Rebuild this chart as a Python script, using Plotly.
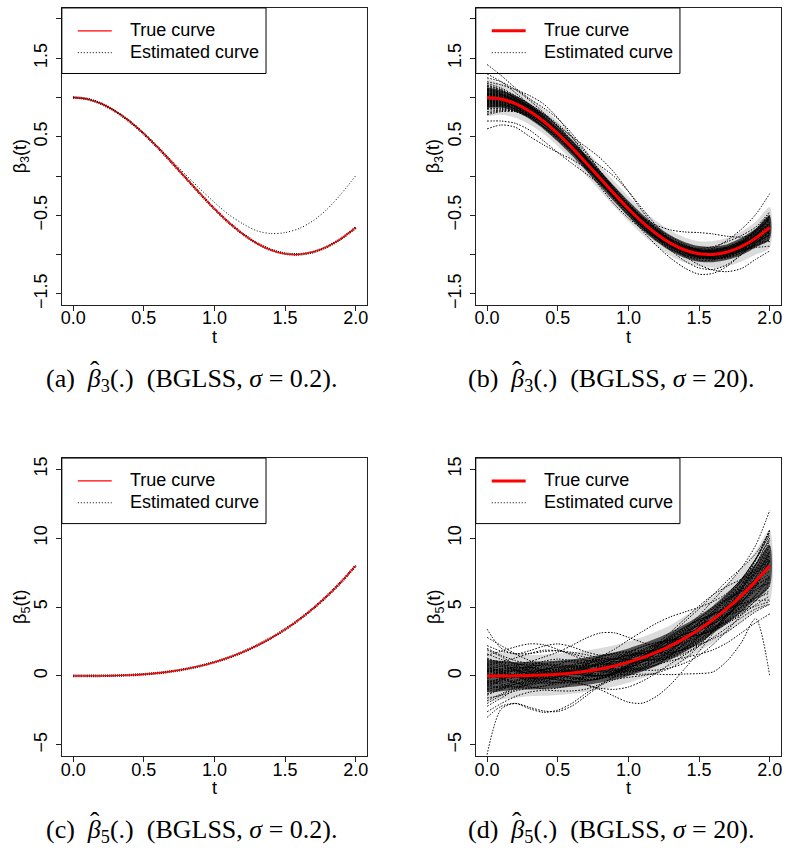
import plotly.graph_objects as go

# ---------------- data ----------------
t_grid = [0.0, 0.1, 0.2, 0.3, 0.4, 0.5, 0.6, 0.7, 0.8, 0.9, 1.0,
          1.1, 1.2, 1.3, 1.4, 1.5, 1.6, 1.7, 1.8, 1.9, 2.0]

beta3_true = [1.000, 0.980, 0.921, 0.825, 0.697, 0.540, 0.362, 0.170, -0.029, -0.227, -0.416,
              -0.589, -0.737, -0.857, -0.942, -0.990, -0.998, -0.967, -0.897, -0.791, -0.654]
beta5_true = [0.000, 0.001, 0.008, 0.027, 0.064, 0.125, 0.216, 0.343, 0.512, 0.729, 1.000,
              1.331, 1.728, 2.197, 2.744, 3.375, 4.096, 4.913, 5.832, 6.859, 8.000]

# panel (a): sigma = 0.2 estimates
beta3_est_a_close = [1.002, 0.981, 0.920, 0.823, 0.695, 0.538, 0.360, 0.168, -0.031, -0.229, -0.418,
                     -0.590, -0.737, -0.856, -0.940, -0.988, -0.997, -0.967, -0.898, -0.793, -0.657]
beta3_est_a_off = [1.000, 0.980, 0.921, 0.825, 0.697, 0.542, 0.372, 0.195, 0.011, -0.167, -0.336,
                   -0.489, -0.607, -0.697, -0.732, -0.720, -0.668, -0.567, -0.417, -0.221, 0.006]
# panel (c): sigma = 0.2 estimate
beta5_est_c = [0.010, 0.006, 0.011, 0.028, 0.062, 0.121, 0.211, 0.339, 0.509, 0.728, 1.001,
               1.334, 1.733, 2.203, 2.749, 3.378, 4.095, 4.908, 5.826, 6.856, 8.004]

# panel (b): departures of each sigma = 20 estimate from the true beta3 curve
beta3_dev_b = [
    [0.12, 0.10, 0.07, 0.04, 0.02, 0.01, 0.02, 0.04, 0.05, 0.05, 0.03, 0.01, -0.01, -0.02, -0.02, -0.01, 0.01, 0.03, 0.05, 0.08, 0.12],
    [-0.10, -0.08, -0.05, -0.03, -0.02, -0.02, -0.03, -0.04, -0.04, -0.02, 0.00, 0.02, 0.04, 0.05, 0.05, 0.04, 0.02, 0.00, -0.03, -0.06, -0.10],
    [0.05, 0.06, 0.07, 0.07, 0.06, 0.04, 0.01, -0.02, -0.04, -0.05, -0.04, -0.02, 0.01, 0.03, 0.04, 0.04, 0.03, 0.01, -0.01, -0.02, -0.03],
    [-0.20, -0.15, -0.10, -0.06, -0.04, -0.03, -0.01, 0.01, 0.03, 0.04, 0.04, 0.03, 0.01, -0.01, -0.03, -0.04, -0.05, -0.05, -0.04, -0.02, 0.02],
    [0.18, 0.14, 0.10, 0.08, 0.07, 0.06, 0.04, 0.02, 0.00, -0.02, -0.04, -0.05, -0.05, -0.04, -0.02, 0.00, 0.02, 0.04, 0.06, 0.10, 0.16],
    [0.02, 0.00, -0.03, -0.06, -0.08, -0.08, -0.06, -0.03, 0.00, 0.03, 0.05, 0.06, 0.05, 0.03, 0.00, -0.03, -0.05, -0.06, -0.05, -0.03, 0.01],
    [-0.05, -0.03, 0.00, 0.03, 0.05, 0.06, 0.05, 0.03, 0.00, -0.03, -0.05, -0.06, -0.05, -0.03, 0.00, 0.03, 0.05, 0.06, 0.05, 0.03, 0.00],
    [0.08, 0.06, 0.04, 0.02, 0.00, -0.02, -0.04, -0.05, -0.05, -0.04, -0.02, 0.00, 0.02, 0.04, 0.05, 0.05, 0.04, 0.02, -0.01, -0.05, -0.10],
    [-0.15, -0.13, -0.10, -0.08, -0.07, -0.06, -0.06, -0.06, -0.05, -0.03, -0.01, 0.01, 0.02, 0.02, 0.01, -0.01, -0.03, -0.05, -0.06, -0.06, -0.05],
    [0.25, 0.22, 0.18, 0.14, 0.11, 0.09, 0.07, 0.06, 0.05, 0.04, 0.03, 0.02, 0.01, 0.00, -0.01, -0.02, -0.02, -0.01, 0.01, 0.05, 0.12],
    [-0.08, -0.04, 0.01, 0.06, 0.09, 0.10, 0.09, 0.06, 0.02, -0.02, -0.05, -0.07, -0.07, -0.05, -0.02, 0.01, 0.04, 0.06, 0.06, 0.04, 0.00],
    [0.00, 0.02, 0.04, 0.05, 0.05, 0.03, 0.01, -0.02, -0.05, -0.07, -0.08, -0.07, -0.05, -0.02, 0.01, 0.04, 0.06, 0.07, 0.07, 0.09, 0.14],
    [0.10, 0.07, 0.03, -0.01, -0.04, -0.05, -0.04, -0.02, 0.01, 0.04, 0.06, 0.07, 0.06, 0.04, 0.01, -0.02, -0.05, -0.07, -0.08, -0.09, -0.12],
    [-0.03, -0.05, -0.07, -0.08, -0.07, -0.04, 0.00, 0.04, 0.07, 0.08, 0.07, 0.04, 0.00, -0.04, -0.07, -0.08, -0.07, -0.04, 0.00, 0.05, 0.10],
    [0.04, 0.05, 0.05, 0.04, 0.03, 0.02, 0.02, 0.03, 0.04, 0.05, 0.05, 0.04, 0.02, 0.00, -0.02, -0.03, -0.03, -0.02, 0.00, 0.03, 0.07],
    [-0.12, -0.09, -0.06, -0.03, 0.00, 0.02, 0.03, 0.03, 0.02, 0.00, -0.02, -0.04, -0.05, -0.05, -0.04, -0.02, 0.00, 0.02, 0.03, 0.02, -0.02],
    [0.06, 0.03, 0.00, -0.02, -0.02, 0.00, 0.03, 0.06, 0.08, 0.08, 0.06, 0.03, 0.00, -0.03, -0.05, -0.05, -0.03, 0.00, 0.04, 0.09, 0.15],
    [-0.02, 0.01, 0.04, 0.06, 0.06, 0.04, 0.01, -0.02, -0.04, -0.05, -0.04, -0.02, 0.00, 0.02, 0.03, 0.02, 0.00, -0.03, -0.06, -0.10, -0.15],
    [0.14, 0.11, 0.08, 0.05, 0.03, 0.01, -0.01, -0.03, -0.04, -0.04, -0.03, -0.01, 0.01, 0.03, 0.04, 0.05, 0.05, 0.04, 0.02, -0.01, -0.05],
    [-0.06, -0.07, -0.07, -0.06, -0.04, -0.01, 0.02, 0.04, 0.05, 0.04, 0.02, -0.01, -0.04, -0.06, -0.07, -0.06, -0.04, -0.01, 0.03, 0.07, 0.12],
    [0.03, 0.04, 0.04, 0.03, 0.01, -0.01, -0.03, -0.04, -0.03, -0.01, 0.02, 0.04, 0.05, 0.04, 0.02, 0.00, -0.02, -0.03, -0.03, -0.01, 0.03],
    [-0.18, -0.14, -0.09, -0.05, -0.02, 0.00, 0.01, 0.00, -0.02, -0.04, -0.05, -0.04, -0.02, 0.01, 0.04, 0.06, 0.07, 0.06, 0.03, -0.02, -0.08],
    [0.09, 0.09, 0.08, 0.06, 0.03, 0.00, -0.03, -0.05, -0.06, -0.05, -0.03, 0.00, 0.03, 0.05, 0.06, 0.05, 0.03, 0.00, -0.04, -0.09, -0.16],
    [-0.04, -0.02, 0.00, 0.01, 0.01, 0.00, -0.01, -0.01, 0.00, 0.02, 0.04, 0.05, 0.05, 0.03, 0.00, -0.03, -0.05, -0.06, -0.05, -0.02, 0.04],
    [0.01, -0.02, -0.04, -0.05, -0.04, -0.02, 0.01, 0.04, 0.06, 0.06, 0.04, 0.01, -0.02, -0.04, -0.04, -0.02, 0.01, 0.05, 0.08, 0.10, 0.10],
    [0.42, 0.30, 0.20, 0.16, 0.17, 0.19, 0.18, 0.14, 0.09, 0.05, 0.02, 0.00, -0.01, 0.00, 0.02, 0.04, 0.05, 0.05, 0.04, 0.04, 0.06],
    [-0.30, -0.28, -0.25, -0.24, -0.25, -0.24, -0.20, -0.14, -0.08, -0.03, 0.00, 0.02, 0.02, 0.00, -0.03, -0.05, -0.06, -0.05, -0.03, 0.00, 0.04],
    [-0.40, -0.33, -0.30, -0.32, -0.30, -0.24, -0.15, -0.07, -0.01, 0.02, 0.03, 0.02, 0.00, -0.02, -0.03, -0.03, -0.02, 0.00, 0.02, 0.03, 0.02],
    [0.20, 0.18, 0.18, 0.20, 0.22, 0.20, 0.14, 0.07, 0.01, -0.02, -0.03, -0.02, 0.00, 0.02, 0.03, 0.02, 0.00, -0.02, -0.03, -0.02, 0.02],
    [0.00, 0.00, 0.02, 0.05, 0.08, 0.10, 0.14, 0.20, 0.26, 0.27, 0.22, 0.14, 0.06, 0.00, -0.03, -0.04, -0.03, -0.01, 0.02, 0.05, 0.08],
    [0.05, 0.03, 0.01, 0.00, 0.00, 0.01, 0.04, 0.09, 0.16, 0.22, 0.22, 0.17, 0.10, 0.04, 0.00, -0.02, -0.02, 0.00, 0.02, 0.04, 0.05],
    [-0.05, -0.04, -0.03, -0.02, -0.02, -0.02, -0.03, -0.04, -0.05, -0.06, -0.08, -0.11, -0.15, -0.19, -0.23, -0.26, -0.24, -0.18, -0.10, -0.04, 0.00],
    [0.02, 0.00, -0.02, -0.03, -0.03, -0.01, 0.01, 0.03, 0.03, 0.02, 0.03, 0.06, 0.11, 0.17, 0.23, 0.27, 0.26, 0.20, 0.12, 0.06, 0.05],
    [-0.08, -0.06, -0.04, -0.02, 0.00, 0.00, -0.01, -0.03, -0.04, -0.03, -0.01, 0.00, 0.00, -0.03, -0.08, -0.14, -0.20, -0.25, -0.28, -0.27, -0.30],
    [0.10, 0.06, 0.02, -0.01, -0.03, -0.03, -0.01, 0.02, 0.04, 0.04, 0.02, -0.01, -0.03, -0.03, -0.01, 0.03, 0.08, 0.15, 0.22, 0.30, 0.43],
    [-0.12, -0.10, -0.08, -0.07, -0.07, -0.06, -0.04, -0.01, 0.02, 0.03, 0.02, -0.01, -0.05, -0.09, -0.14, -0.18, -0.19, -0.16, -0.10, -0.06, -0.05],
    [0.15, 0.12, 0.10, 0.09, 0.10, 0.12, 0.13, 0.12, 0.09, 0.06, 0.03, 0.01, 0.01, 0.02, 0.04, 0.07, 0.10, 0.13, 0.14, 0.14, 0.20],
    [-0.22, -0.16, -0.10, -0.05, -0.02, -0.02, -0.04, -0.08, -0.11, -0.13, -0.12, -0.09, -0.05, -0.01, 0.02, 0.03, 0.02, -0.01, -0.05, -0.12, -0.24],
    [0.30, 0.22, 0.14, 0.08, 0.03, 0.00, -0.02, -0.03, -0.03, -0.01, 0.02, 0.05, 0.07, 0.08, 0.07, 0.05, 0.02, -0.01, -0.02, 0.02, 0.15],
    [-0.14, -0.12, -0.08, -0.03, 0.02, 0.06, 0.08, 0.08, 0.05, 0.01, -0.03, -0.06, -0.08, -0.08, -0.06, -0.03, 0.00, 0.01, 0.00, -0.05, -0.18],
    [0.07, 0.05, 0.03, 0.02, 0.02, 0.03, 0.04, 0.04, 0.03, 0.01, -0.01, -0.03, -0.03, -0.02, 0.00, 0.02, 0.03, 0.03, 0.01, -0.02, -0.07],
    [-0.09, -0.08, -0.06, -0.04, -0.01, 0.01, 0.02, 0.01, -0.01, -0.03, -0.04, -0.03, -0.01, 0.02, 0.04, 0.05, 0.04, 0.02, 0.01, 0.02, 0.06],
    [0.00, -0.01, -0.01, 0.00, 0.02, 0.04, 0.05, 0.04, 0.01, -0.02, -0.05, -0.06, -0.05, -0.03, 0.00, 0.02, 0.03, 0.02, 0.00, -0.04, -0.10],
    [0.11, 0.08, 0.05, 0.02, -0.01, -0.03, -0.05, -0.06, -0.06, -0.04, -0.01, 0.02, 0.04, 0.05, 0.04, 0.01, -0.02, -0.04, -0.04, -0.02, 0.03],
    [-0.01, 0.02, 0.04, 0.04, 0.02, -0.01, -0.04, -0.06, -0.06, -0.04, -0.01, 0.02, 0.03, 0.03, 0.01, -0.01, -0.01, 0.01, 0.05, 0.11, 0.18],
    [0.04, 0.02, 0.00, -0.01, 0.00, 0.02, 0.05, 0.07, 0.07, 0.05, 0.02, -0.01, -0.03, -0.03, -0.02, 0.01, 0.04, 0.05, 0.04, 0.01, -0.04],
    [-0.06, -0.05, -0.03, -0.01, 0.00, 0.00, -0.01, -0.02, -0.02, 0.00, 0.02, 0.04, 0.06, 0.06, 0.05, 0.03, 0.00, -0.03, -0.06, -0.08, -0.08],
    [0.16, 0.12, 0.07, 0.03, 0.00, -0.01, 0.00, 0.02, 0.03, 0.03, 0.01, -0.02, -0.05, -0.07, -0.07, -0.05, -0.02, 0.02, 0.06, 0.09, 0.09],
    [-0.11, -0.07, -0.03, 0.01, 0.03, 0.04, 0.03, 0.01, -0.01, -0.02, -0.01, 0.01, 0.03, 0.03, 0.01, -0.02, -0.05, -0.07, -0.08, -0.07, -0.04],
    [0.03, 0.05, 0.06, 0.06, 0.04, 0.02, 0.00, -0.01, -0.01, 0.01, 0.03, 0.04, 0.03, 0.01, -0.02, -0.04, -0.04, -0.02, 0.02, 0.07, 0.13],
]
# half-widths of the dense core and of the wider spread of the panel (b) bundle
beta3_dense_b = [0.13, 0.11, 0.10, 0.10, 0.10, 0.10, 0.10, 0.10, 0.10, 0.10, 0.10,
                 0.10, 0.10, 0.10, 0.10, 0.10, 0.10, 0.10, 0.11, 0.12, 0.15]
beta3_spread_b = [0.24, 0.20, 0.18, 0.17, 0.16, 0.16, 0.16, 0.16, 0.16, 0.16, 0.16,
                  0.16, 0.16, 0.16, 0.16, 0.16, 0.17, 0.18, 0.19, 0.21, 0.26]

# panel (d): departures of each sigma = 20 estimate from the true beta5 curve
beta5_dev_d = [
    [1.2, 1.0, 0.7, 0.4, 0.2, 0.1, 0.1, 0.2, 0.4, 0.5, 0.5, 0.3, 0.0, -0.3, -0.5, -0.5, -0.3, 0.0, 0.4, 0.9, 1.5],
    [-1.0, -0.7, -0.4, -0.2, -0.1, -0.2, -0.4, -0.6, -0.7, -0.6, -0.3, 0.0, 0.3, 0.5, 0.5, 0.3, -0.1, -0.5, -0.9, -1.2, -1.5],
    [0.5, 0.7, 0.8, 0.8, 0.6, 0.3, 0.0, -0.3, -0.5, -0.5, -0.3, 0.0, 0.4, 0.7, 0.8, 0.7, 0.4, 0.0, -0.4, -0.7, -0.9],
    [-2.0, -1.4, -0.9, -0.5, -0.3, -0.2, 0.0, 0.2, 0.4, 0.5, 0.4, 0.2, -0.1, -0.4, -0.6, -0.7, -0.7, -0.5, -0.2, 0.3, 1.0],
    [2.0, 1.5, 1.1, 0.9, 0.8, 0.7, 0.5, 0.2, -0.1, -0.4, -0.6, -0.7, -0.6, -0.4, -0.1, 0.2, 0.5, 0.8, 1.1, 1.6, 2.5],
    [0.2, -0.1, -0.5, -0.8, -1.0, -1.0, -0.8, -0.4, 0.0, 0.4, 0.7, 0.8, 0.7, 0.4, 0.0, -0.4, -0.8, -1.0, -1.1, -1.0, -0.7],
    [-0.5, -0.3, 0.1, 0.5, 0.8, 0.9, 0.8, 0.5, 0.1, -0.3, -0.7, -0.9, -0.9, -0.7, -0.3, 0.2, 0.6, 0.9, 1.0, 0.8, 0.4],
    [0.9, 0.7, 0.4, 0.1, -0.2, -0.4, -0.6, -0.7, -0.7, -0.5, -0.2, 0.1, 0.4, 0.6, 0.7, 0.6, 0.3, -0.1, -0.6, -1.2, -2.0],
    [-1.6, -1.4, -1.1, -0.9, -0.8, -0.7, -0.7, -0.7, -0.6, -0.4, -0.2, 0.0, 0.1, 0.1, 0.0, -0.3, -0.6, -0.9, -1.2, -1.4, -1.5],
    [2.8, 2.2, 1.6, 1.1, 0.8, 0.6, 0.5, 0.4, 0.3, 0.2, 0.1, 0.0, -0.1, -0.2, -0.2, -0.1, 0.1, 0.4, 0.8, 1.5, 2.6],
    [-0.8, -0.3, 0.2, 0.7, 1.0, 1.1, 0.9, 0.6, 0.2, -0.2, -0.6, -0.8, -0.9, -0.7, -0.4, 0.0, 0.4, 0.7, 0.8, 0.6, 0.2],
    [0.0, 0.3, 0.5, 0.6, 0.5, 0.3, 0.0, -0.3, -0.6, -0.8, -0.9, -0.8, -0.6, -0.3, 0.1, 0.5, 0.8, 1.0, 1.2, 1.6, 2.2],
    [1.1, 0.8, 0.4, -0.1, -0.4, -0.6, -0.5, -0.3, 0.1, 0.4, 0.7, 0.8, 0.7, 0.4, 0.0, -0.4, -0.8, -1.1, -1.4, -1.7, -2.2],
    [-0.3, -0.6, -0.8, -0.9, -0.8, -0.5, 0.0, 0.4, 0.8, 0.9, 0.8, 0.5, 0.0, -0.5, -0.8, -1.0, -0.9, -0.6, -0.1, 0.6, 1.4],
    [0.4, 0.5, 0.6, 0.5, 0.3, 0.2, 0.2, 0.3, 0.4, 0.5, 0.5, 0.4, 0.2, -0.1, -0.3, -0.5, -0.6, -0.5, -0.3, 0.1, 0.7],
    [-1.3, -1.0, -0.6, -0.3, 0.0, 0.2, 0.3, 0.3, 0.2, 0.0, -0.3, -0.5, -0.7, -0.8, -0.8, -0.6, -0.4, -0.2, -0.1, -0.3, -0.8],
    [0.7, 0.3, 0.0, -0.2, -0.2, 0.0, 0.3, 0.6, 0.9, 0.9, 0.7, 0.3, -0.1, -0.5, -0.8, -0.9, -0.8, -0.4, 0.1, 0.8, 1.8],
    [-0.2, 0.1, 0.4, 0.7, 0.7, 0.5, 0.1, -0.2, -0.5, -0.6, -0.5, -0.3, 0.0, 0.3, 0.4, 0.3, 0.0, -0.5, -1.1, -1.8, -2.6],
    [1.6, 1.2, 0.9, 0.6, 0.3, 0.1, -0.1, -0.3, -0.5, -0.5, -0.4, -0.1, 0.2, 0.5, 0.7, 0.8, 0.8, 0.6, 0.3, -0.1, -0.6],
    [-0.7, -0.8, -0.8, -0.7, -0.5, -0.1, 0.2, 0.5, 0.6, 0.5, 0.2, -0.2, -0.6, -0.9, -1.1, -1.1, -0.8, -0.3, 0.4, 1.2, 2.0],
    [0.3, 0.4, 0.4, 0.3, 0.1, -0.1, -0.3, -0.5, -0.4, -0.1, 0.2, 0.5, 0.6, 0.5, 0.3, 0.0, -0.3, -0.5, -0.5, -0.2, 0.4],
    [-2.2, -1.6, -1.0, -0.6, -0.3, 0.0, 0.1, 0.0, -0.2, -0.5, -0.7, -0.6, -0.3, 0.1, 0.5, 0.8, 0.9, 0.7, 0.3, -0.4, -1.3],
    [1.0, 1.0, 0.9, 0.7, 0.3, 0.0, -0.3, -0.6, -0.7, -0.6, -0.3, 0.0, 0.4, 0.7, 0.8, 0.7, 0.4, 0.0, -0.6, -1.4, -2.5],
    [-0.5, -0.2, 0.0, 0.1, 0.1, 0.0, -0.1, -0.1, 0.0, 0.2, 0.4, 0.6, 0.6, 0.4, 0.0, -0.4, -0.7, -0.9, -0.8, -0.4, 0.5],
    [0.1, -0.2, -0.5, -0.6, -0.5, -0.2, 0.1, 0.5, 0.7, 0.7, 0.5, 0.1, -0.3, -0.6, -0.7, -0.5, -0.1, 0.5, 1.1, 1.6, 1.8],
    [3.4, 2.0, 1.6, 1.8, 2.1, 2.2, 1.9, 1.4, 1.0, 0.8, 0.6, 0.4, 0.2, 0.1, 0.2, 0.4, 0.6, 0.7, 0.6, 0.5, 0.8],
    [-5.7, -2.4, -2.0, -2.3, -2.6, -2.7, -2.4, -1.8, -1.2, -0.8, -0.6, -0.5, -0.5, -0.6, -0.7, -0.8, -0.8, -0.6, -0.3, 0.0, 0.3],
    [-3.0, -2.2, -2.0, -2.4, -2.7, -2.6, -2.2, -1.6, -1.2, -1.0, -1.1, -1.3, -1.5, -1.6, -1.5, -1.2, -0.8, -0.4, -0.1, 0.3, 1.0],
    [1.5, 1.8, 2.1, 2.3, 2.2, 1.8, 1.3, 0.8, 0.4, 0.1, -0.1, -0.2, -0.1, 0.1, 0.3, 0.5, 0.6, 0.6, 0.5, 0.6, 1.0],
    [0.0, 0.3, 0.7, 1.0, 1.3, 1.6, 2.0, 2.4, 2.6, 2.4, 1.8, 1.1, 0.4, -0.1, -0.4, -0.4, -0.2, 0.2, 0.8, 1.6, 2.6],
    [0.8, 0.5, 0.0, -0.4, -0.6, -0.6, -0.5, -0.4, -0.4, -0.6, -0.9, -1.2, -1.6, -2.1, -2.6, -3.2, -3.8, -3.8, -3.4, -2.7, -8.0],
    [0.5, 0.3, 0.0, -0.3, -0.5, -0.6, -0.7, -1.0, -1.5, -2.2, -2.9, -3.3, -3.2, -2.8, -2.2, -1.6, -1.0, -0.6, -0.4, -0.6, -1.2],
    [-0.6, -0.4, -0.1, 0.2, 0.4, 0.5, 0.6, 0.7, 0.9, 1.2, 1.6, 1.9, 2.1, 2.1, 1.9, 1.6, 1.3, 1.1, 1.2, 1.6, 2.3],
    [0.3, 0.2, 0.0, -0.2, -0.3, -0.2, 0.0, 0.3, 0.5, 0.6, 0.5, 0.3, 0.2, 0.3, 0.6, 1.0, 1.4, 1.7, 2.0, 2.6, 4.0],
    [-0.4, -0.2, 0.1, 0.3, 0.4, 0.3, 0.1, -0.2, -0.5, -0.7, -0.8, -0.8, -0.9, -1.1, -1.4, -1.8, -2.2, -2.5, -2.7, -3.0, -3.5],
    [-2.6, -2.0, -1.5, -1.2, -1.1, -1.2, -1.3, -1.3, -1.1, -0.8, -0.5, -0.3, -0.3, -0.5, -0.8, -1.1, -1.4, -1.7, -1.9, -2.2, -2.8],
    [2.2, 1.8, 1.6, 1.6, 1.7, 1.7, 1.5, 1.2, 0.8, 0.5, 0.3, 0.3, 0.5, 0.8, 1.2, 1.5, 1.8, 2.0, 2.0, 2.0, 2.4],
    [-1.8, -1.3, -0.8, -0.4, -0.2, -0.3, -0.6, -1.0, -1.4, -1.7, -1.8, -1.7, -1.5, -1.3, -1.2, -1.2, -1.3, -1.4, -1.6, -2.0, -2.8],
    [0.8, 1.0, 1.3, 1.6, 1.8, 1.7, 1.4, 1.0, 0.6, 0.3, 0.2, 0.3, 0.6, 1.0, 1.4, 1.7, 1.8, 1.6, 1.2, 0.9, 1.1],
    [-1.1, -0.9, -0.6, -0.2, 0.3, 0.7, 0.9, 0.8, 0.5, 0.1, -0.4, -0.9, -1.3, -1.6, -1.8, -1.9, -1.8, -1.6, -1.4, -1.4, -1.8],
    [0.6, 0.4, 0.3, 0.2, 0.2, 0.3, 0.4, 0.4, 0.3, 0.1, -0.1, -0.3, -0.4, -0.3, -0.1, 0.2, 0.4, 0.5, 0.4, 0.1, -0.4],
    [-0.9, -0.8, -0.6, -0.4, -0.1, 0.1, 0.2, 0.1, -0.1, -0.3, -0.4, -0.3, -0.1, 0.2, 0.4, 0.5, 0.4, 0.2, 0.0, -0.1, 0.1],
    [0.0, -0.1, -0.1, 0.0, 0.2, 0.4, 0.5, 0.4, 0.1, -0.2, -0.5, -0.7, -0.7, -0.6, -0.4, -0.2, 0.0, 0.1, 0.0, -0.3, -0.9],
    [1.3, 0.9, 0.5, 0.1, -0.2, -0.4, -0.6, -0.7, -0.7, -0.5, -0.2, 0.1, 0.3, 0.4, 0.3, 0.0, -0.3, -0.5, -0.5, -0.3, 0.3],
    [-0.1, 0.2, 0.4, 0.4, 0.2, -0.1, -0.4, -0.6, -0.7, -0.6, -0.4, -0.1, 0.1, 0.2, 0.1, -0.1, -0.2, 0.0, 0.5, 1.2, 2.0],
    [0.4, 0.2, 0.0, -0.1, 0.0, 0.2, 0.5, 0.7, 0.7, 0.5, 0.2, -0.2, -0.5, -0.7, -0.7, -0.5, -0.1, 0.3, 0.6, 0.7, 0.5],
    [-0.6, -0.5, -0.3, -0.1, 0.0, 0.0, -0.1, -0.2, -0.3, -0.3, -0.2, 0.1, 0.4, 0.6, 0.6, 0.4, 0.0, -0.4, -0.8, -1.0, -1.0],
    [1.9, 1.4, 0.8, 0.3, 0.0, -0.1, 0.0, 0.2, 0.3, 0.3, 0.1, -0.2, -0.5, -0.8, -0.9, -0.8, -0.5, 0.0, 0.6, 1.2, 1.6],
    [-1.4, -0.9, -0.4, 0.1, 0.4, 0.5, 0.4, 0.1, -0.2, -0.4, -0.4, -0.2, 0.1, 0.3, 0.3, 0.0, -0.5, -1.0, -1.3, -1.4, -1.2],
    [0.3, 0.5, 0.6, 0.6, 0.4, 0.2, 0.0, -0.1, -0.1, 0.1, 0.3, 0.5, 0.5, 0.3, 0.0, -0.4, -0.7, -0.8, -0.6, -0.1, 0.8],
]
# half-widths of the dense core and of the wider spread of the panel (d) bundle
beta5_dense_d = [1.2, 1.1, 1.0, 1.0, 1.0, 1.0, 1.0, 1.0, 1.0, 1.0, 1.0,
                 1.0, 1.0, 1.0, 1.0, 1.0, 1.0, 1.1, 1.2, 1.3, 1.5]
beta5_spread_d = [1.9, 1.7, 1.6, 1.5, 1.5, 1.5, 1.5, 1.5, 1.5, 1.5, 1.5,
                  1.5, 1.5, 1.5, 1.6, 1.6, 1.7, 1.8, 1.9, 2.2, 2.6]

x_tick_vals = [0.0, 0.5, 1.0, 1.5, 2.0]
x_tick_text = ["0.0", "0.5", "1.0", "1.5", "2.0"]
y3_tick_vals = [-1.5, -1.0, -0.5, 0.0, 0.5, 1.0, 1.5, 2.0]
y3_tick_text = ["\u22121.5", "", "\u22120.5", "", "0.5", "", "1.5", ""]
y5_tick_vals = [-5, 0, 5, 10, 15]
y5_tick_text = ["\u22125", "0", "5", "10", "15"]

captions = [
    "(a)  <i>β</i><sub>3</sub>(.)  (BGLSS, <i>σ</i> = 0.2).",
    "(b)  <i>β</i><sub>3</sub>(.)  (BGLSS, <i>σ</i> = 20).",
    "(c)  <i>β</i><sub>5</sub>(.)  (BGLSS, <i>σ</i> = 0.2).",
    "(d)  <i>β</i><sub>5</sub>(.)  (BGLSS, <i>σ</i> = 20).",
]
caption_left = [43, 466, 43, 466]
y_titles = ["β<sub>3</sub>(t)", "β<sub>3</sub>(t)", "β<sub>5</sub>(t)", "β<sub>5</sub>(t)"]
legend_labels = ["True curve", "Estimated curve"]

# ---------------- layout geometry (page pixels) ----------------
W, H = 786, 853
def px(x):
    return x / W
def py(y):
    return 1 - y / H

# left, right, top, bottom of each plotting region in page pixels
boxes = [(61, 367, 6, 305), (476, 782, 6, 305), (61, 367, 459.3, 759.3), (476, 782, 459.3, 759.3)]
y_ranges = [[-1.64, 2.14], [-1.64, 2.14], [-5.8, 15.8], [-5.8, 15.8]]

SANS = "Liberation Sans, Arial, Helvetica, sans-serif"
SERIF = "Liberation Serif, Times New Roman, serif"
DOT = "1.5px,1.5px"

fig = go.Figure()

def ax_ids(i):
    suffix = "" if i == 0 else str(i + 1)
    return "x" + suffix, "y" + suffix

def add_line(i, x, y, color, width, dash=None):
    xa, ya = ax_ids(i)
    fig.add_trace(go.Scatter(
        x=x, y=y, mode="lines", xaxis=xa, yaxis=ya,
        line=dict(color=color, width=width, dash=dash, shape="spline", smoothing=0.8),
        hoverinfo="skip", showlegend=False))

def add_band(i, true_vals, half, color):
    xa, ya = ax_ids(i)
    upper = [tv + h for tv, h in zip(true_vals, half)]
    lower = [tv - h for tv, h in zip(true_vals, half)]
    fig.add_trace(go.Scatter(
        x=t_grid + t_grid[::-1], y=upper + lower[::-1], mode="lines", xaxis=xa, yaxis=ya,
        fill="toself", fillcolor=color, line=dict(width=0, shape="spline", smoothing=0.8),
        hoverinfo="skip", showlegend=False))

# (a)
add_line(0, t_grid, beta3_est_a_close, "black", 2.6, "1px,1px")
add_line(0, t_grid, beta3_true, "red", 1.3)
add_line(0, t_grid, beta3_est_a_off, "black", 1, "1px,2px")
# (b)
add_band(1, beta3_true, beta3_spread_b, "rgba(0,0,0,0.14)")
add_band(1, beta3_true, beta3_dense_b, "rgba(0,0,0,0.68)")
for dev in beta3_dev_b:
    add_line(1, t_grid, [tv + dv for tv, dv in zip(beta3_true, dev)], "black", 1, DOT)
add_line(1, t_grid, beta3_true, "red", 3)
# (c)
add_line(2, t_grid, beta5_est_c, "black", 2.6, "1px,1px")
add_line(2, t_grid, beta5_true, "red", 1.3)
# (d)
add_band(3, beta5_true, beta5_spread_d, "rgba(0,0,0,0.14)")
add_band(3, beta5_true, beta5_dense_d, "rgba(0,0,0,0.62)")
for dev in beta5_dev_d:
    add_line(3, t_grid, [tv + dv for tv, dv in zip(beta5_true, dev)], "black", 1, DOT)
add_line(3, t_grid, beta5_true, "red", 3)

axis_line = dict(showline=True, linecolor="#222", linewidth=1, mirror=True,
                 ticks="outside", ticklen=5, tickwidth=1, tickcolor="#222",
                 showgrid=False, zeroline=False,
                 tickfont=dict(family=SANS, size=18, color="black"))

layout = dict(width=W, height=H, margin=dict(l=0, r=0, t=0, b=0),
              paper_bgcolor="white", plot_bgcolor="white", showlegend=False)

shapes = []
annotations = []
for i, (l, r, tp, bt) in enumerate(boxes):
    suffix = "" if i == 0 else str(i + 1)
    ytv = y3_tick_vals if i < 2 else y5_tick_vals
    ytt = y3_tick_text if i < 2 else y5_tick_text
    layout["xaxis" + suffix] = dict(axis_line, domain=[px(l), px(r)], range=[-0.08, 2.08],
                                    anchor="y" + suffix, tickvals=x_tick_vals, ticktext=x_tick_text,
                                    ticklabelstandoff=-8)
    layout["yaxis" + suffix] = dict(axis_line, domain=[py(bt), py(tp)], range=y_ranges[i],
                                    anchor="x" + suffix, tickvals=ytv, ticktext=ytt,
                                    tickangle=-90, ticklabelstandoff=2)
    cx = (l + r) / 2
    cy = (tp + bt) / 2
    # axis titles
    annotations.append(dict(x=px(cx), y=py(bt + 32), xref="paper", yref="paper", text="t",
                            showarrow=False, font=dict(family=SANS, size=18, color="black"),
                            xanchor="center", yanchor="middle"))
    annotations.append(dict(x=px(l - 41), y=py(cy), xref="paper", yref="paper", text=y_titles[i],
                            showarrow=False, textangle=-90, font=dict(family=SANS, size=18, color="black"),
                            xanchor="center", yanchor="middle"))
    # caption, with the hat of the estimator drawn over the beta
    cl = caption_left[i]
    annotations.append(dict(x=px(cl), y=py(bt + 76), xref="paper", yref="paper", text=captions[i],
                            showarrow=False, font=dict(family=SERIF, size=26, color="black"),
                            xanchor="left", yanchor="middle"))
    annotations.append(dict(x=px(cl + 51), y=py(bt + 66), xref="paper", yref="paper", text="ˆ",
                            showarrow=False, font=dict(family=SERIF, size=28, color="black"),
                            xanchor="center", yanchor="middle"))
    # legend box
    shapes.append(dict(type="rect", xref="paper", yref="paper", x0=px(l), x1=px(l + 204.7),
                       y0=py(tp), y1=py(tp + 66), line=dict(color="black", width=1),
                       fillcolor="rgba(0,0,0,0)", layer="above"))
    red_w = 1.3 if i in (0, 2) else 3
    shapes.append(dict(type="line", xref="paper", yref="paper", x0=px(l + 16), x1=px(l + 50),
                       y0=py(tp + 23), y1=py(tp + 23), line=dict(color="red", width=red_w)))
    shapes.append(dict(type="line", xref="paper", yref="paper", x0=px(l + 16), x1=px(l + 50),
                       y0=py(tp + 45), y1=py(tp + 45), line=dict(color="black", width=1, dash="1px,2px")))
    for k, lab in enumerate(legend_labels):
        annotations.append(dict(x=px(l + 66), y=py(tp + 22 + 22 * k), xref="paper", yref="paper",
                                text=lab, showarrow=False, xanchor="left", yanchor="middle",
                                font=dict(family=SANS, size=18, color="black")))

layout["shapes"] = shapes
layout["annotations"] = annotations
fig.update_layout(**layout)
# the page's default 8px body margin would shift the 786x853 figure; remove it
fig.write_html("out.html", config={"displayModeBar": False},
               post_script="document.body.style.margin='0px';")
